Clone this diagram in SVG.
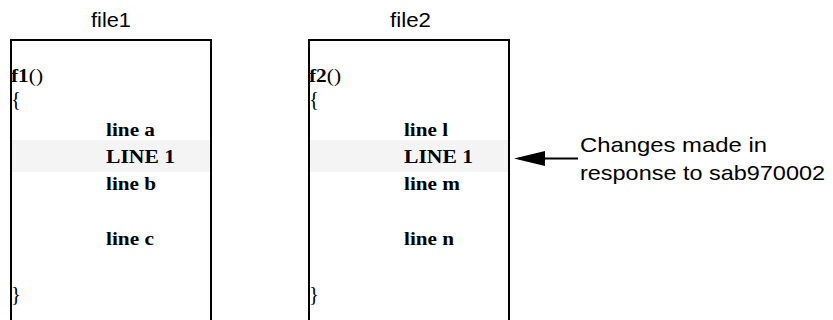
<svg xmlns="http://www.w3.org/2000/svg" width="833" height="320" viewBox="0 0 833 320">
  <style>
    .box { fill: none; stroke: #000; stroke-width: 2; }
    .band { fill: #f4f4f4; stroke: none; }
    .title { font-family: "Liberation Sans", Arial, sans-serif; font-size: 20px; fill: #000; text-anchor: middle; }
    .note { font-family: "Liberation Sans", Arial, sans-serif; font-size: 21px; fill: #000; }
    .code { font-family: "Liberation Serif", "Times New Roman", serif; font-size: 18.5px; fill: #000; font-weight: bold; }
    .reg { font-weight: normal; }
    .brace { font-size: 21px; }
    .conn { stroke: #000; stroke-width: 2; fill: none; }
  </style>
  <defs>
    <marker id="head" markerUnits="userSpaceOnUse" viewBox="0 0 31 15" refX="0" refY="7.5" markerWidth="31" markerHeight="15" orient="auto">
      <path d="M0,0 L31,7.5 L0,15 z" fill="#000"/>
    </marker>
  </defs>

  <!-- first source file -->
  <g id="file1">
    <text class="title" x="111" y="27" textLength="40" lengthAdjust="spacingAndGlyphs">file1</text>
    <rect class="band" x="12" y="140" width="198" height="32"/>
    <rect class="box" x="11" y="40" width="200" height="300"/>
    <text class="code" x="11" y="82" textLength="32" lengthAdjust="spacingAndGlyphs">f1<tspan class="reg">()</tspan></text>
    <text class="code reg brace" x="11" y="106" textLength="10" lengthAdjust="spacingAndGlyphs">{</text>
    <text class="code" x="106" y="135.5" textLength="49" lengthAdjust="spacingAndGlyphs">line a</text>
    <text class="code" x="106" y="163" textLength="69" lengthAdjust="spacingAndGlyphs">LINE 1</text>
    <text class="code" x="106" y="190" textLength="50" lengthAdjust="spacingAndGlyphs">line b</text>
    <text class="code" x="106" y="245" textLength="48" lengthAdjust="spacingAndGlyphs">line c</text>
    <text class="code reg brace" x="11" y="301" textLength="10" lengthAdjust="spacingAndGlyphs">}</text>
  </g>

  <!-- second source file -->
  <g id="file2">
    <text class="title" x="410.5" y="27" textLength="41" lengthAdjust="spacingAndGlyphs">file2</text>
    <rect class="band" x="310" y="140" width="198" height="32"/>
    <rect class="box" x="309" y="40" width="200" height="300"/>
    <text class="code" x="309" y="82" textLength="32" lengthAdjust="spacingAndGlyphs">f2<tspan class="reg">()</tspan></text>
    <text class="code reg brace" x="309" y="106" textLength="10" lengthAdjust="spacingAndGlyphs">{</text>
    <text class="code" x="404" y="135.5" textLength="44" lengthAdjust="spacingAndGlyphs">line l</text>
    <text class="code" x="404" y="163" textLength="69" lengthAdjust="spacingAndGlyphs">LINE 1</text>
    <text class="code" x="404" y="190" textLength="56" lengthAdjust="spacingAndGlyphs">line m</text>
    <text class="code" x="404" y="245" textLength="50" lengthAdjust="spacingAndGlyphs">line n</text>
    <text class="code reg brace" x="309" y="301" textLength="10" lengthAdjust="spacingAndGlyphs">}</text>
  </g>

  <!-- annotation -->
  <g id="note">
    <text class="note" x="580" y="152" textLength="187" lengthAdjust="spacingAndGlyphs">Changes made in</text>
    <text class="note" x="580" y="180" textLength="245" lengthAdjust="spacingAndGlyphs">response to sab970002</text>
  </g>

  <!-- connectors -->
  <g id="connectors">
    <line class="conn" x1="578" y1="158.5" x2="545" y2="158.5" marker-end="url(#head)"/>
  </g>
</svg>
